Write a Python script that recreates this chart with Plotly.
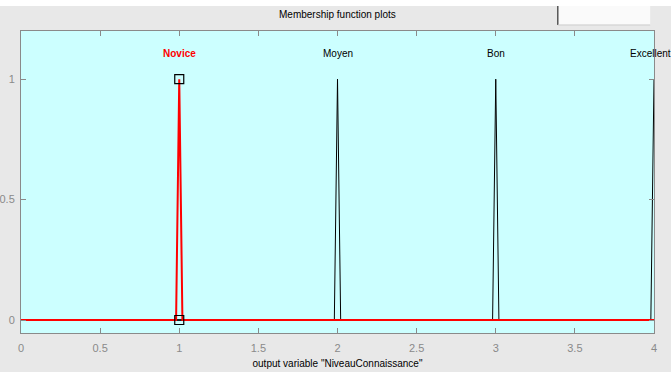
import plotly.graph_objects as go

mf_names = ["Novice", "Moyen", "Bon", "Excellent"]
mf_params = [[0.98, 1.0, 1.02], [1.98, 2.0, 2.02], [2.98, 3.0, 3.02], [3.98, 4.0, 4.02]]
x_ticks = [0, 0.5, 1, 1.5, 2, 2.5, 3, 3.5, 4]
x_tick_labels = ["0", "0.5", "1", "1.5", "2", "2.5", "3", "3.5", "4"]
y_ticks = [0, 0.5, 1]
y_tick_labels = ["0", "0.5", "1"]
x_min, x_max = 0, 4
selected = "Novice"

FONT = "Liberation Sans Narrow, Arial Narrow, Liberation Sans, Arial"
fig = go.Figure()

for name, (a, b, c) in zip(mf_names, mf_params):
    if name == selected:
        continue
    xs = [x_min, a, b, min(c, x_max)]
    ys = [0, 0, 1, 0 if c <= x_max else (c - x_max) / (c - b)]
    if c <= x_max:
        xs.append(x_max)
        ys.append(0)
    fig.add_trace(go.Scatter(x=xs, y=ys, mode="lines",
                             line=dict(color="black", width=1), hoverinfo="skip",
                             showlegend=False))

for name, (a, b, c) in zip(mf_names, mf_params):
    if name != selected:
        continue
    fig.add_trace(go.Scatter(x=[x_min, a, b, c, x_max], y=[0, 0, 1, 0, 0], mode="lines",
                             line=dict(color="red", width=2), showlegend=False))
    fig.add_trace(go.Scatter(x=[b, b], y=[1, 0], mode="markers",
                             marker=dict(symbol="square-open", size=9,
                                         color="black", line=dict(width=1.2)),
                             showlegend=False))

for name, (a, b, c) in zip(mf_names, mf_params):
    sel = name == selected
    last = name == mf_names[-1]
    fig.add_annotation(x=b, y=1.108, text=("<b>%s</b>" % name) if sel else name,
                       showarrow=False, xref="x", yref="y", yanchor="middle",
                       xshift=-4 if last else 0,
                       font=dict(family=FONT, size=10, color="red" if sel else "black"))

fig.add_shape(type="rect", xref="paper", yref="paper", x0=-0.04, x1=1.04,
              y0=1.083, y1=1.11, fillcolor="white", line=dict(width=0), layer="below")
fig.add_shape(type="rect", xref="paper", yref="paper", x0=0.848, x1=0.994,
              y0=1.02, y1=1.083, fillcolor="#fafafa", line=dict(width=0))
fig.add_shape(type="line", xref="paper", yref="paper", x0=0.848, x1=0.848,
              y0=1.02, y1=1.083, line=dict(color="#555555", width=1.5))
fig.add_shape(type="line", xref="paper", yref="paper", x0=0.848, x1=0.994,
              y0=1.02, y1=1.02, line=dict(color="#cccccc", width=1))
fig.add_annotation(x=(337 - 21) / 633, y=(333 - 15) / 302, xref="paper", yref="paper",
                   xanchor="center", yanchor="middle",
                   text="Membership function plots", showarrow=False,
                   font=dict(family=FONT, size=10, color="black"))

axis_common = dict(showgrid=False, zeroline=False, showline=True, linecolor="#8a8a8a",
                   linewidth=1, mirror="ticks", ticks="inside", ticklen=5,
                   tickcolor="#8a8a8a", automargin=False,
                   tickfont=dict(family=FONT, size=11, color="#8a8a8a"))

fig.update_layout(
    width=671, height=372,
    margin=dict(l=21, r=17, t=31, b=39),
    paper_bgcolor="#e8e8e8", plot_bgcolor="#ccffff",
    xaxis=dict(range=[x_min, x_max], tickvals=x_ticks, ticktext=x_tick_labels,
               ticklabelstandoff=5,
               title=dict(text='output variable "NiveauConnaissance"', standoff=6,
                          font=dict(family=FONT, size=10, color="black")),
               **axis_common),
    yaxis=dict(range=[-0.054, 1.2], tickvals=y_ticks, ticktext=y_tick_labels,
               ticklabelstandoff=3, **axis_common),
)

fig.write_html("out.html", config={"displayModeBar": False},
               post_script="document.body.style.margin='0px';document.body.style.padding='0px';")
